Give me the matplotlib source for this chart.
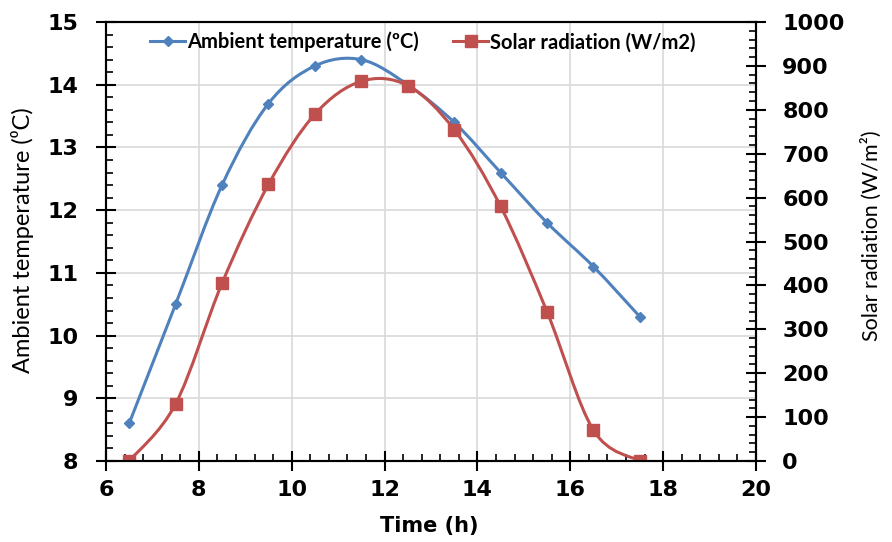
import numpy as np
import matplotlib
matplotlib.use("Agg")
import matplotlib.pyplot as plt
from matplotlib.path import Path
from matplotlib.patches import PathPatch
from matplotlib.lines import Line2D
from matplotlib.ticker import MultipleLocator

# data
hours = [6.5, 7.5, 8.5, 9.5, 10.5, 11.5, 12.5, 13.5, 14.5, 15.5, 16.5, 17.5]
temperature = [8.6, 10.5, 12.4, 13.7, 14.3, 14.4, 14.0, 13.4, 12.6, 11.8, 11.1, 10.3]
radiation = [0, 130, 405, 630, 790, 865, 855, 755, 580, 340, 70, 0]

blue = '#4F81BD'
red = '#C0504D'
txt_font = ['Lato', 'DejaVu Sans']


def smooth_path(xs, ys):
    # excel-like smoothed line: bezier segments through the points
    pts = np.column_stack([xs, ys]).astype(float)
    ext = np.vstack([pts[0], pts, pts[-1]])
    verts = [pts[0]]
    codes = [Path.MOVETO]
    for i in range(len(pts) - 1):
        p0, p1, p2, p3 = ext[i], ext[i + 1], ext[i + 2], ext[i + 3]
        c1 = p1 + (p2 - p0) / 6
        c2 = p2 - (p3 - p1) / 6
        verts += [c1, c2, p2]
        codes += [Path.CURVE4] * 3
    return Path(verts, codes)


fig = plt.figure(figsize=(8.92, 5.42), dpi=100)
ax = fig.add_axes([0.1188, 0.1494, 0.7287, 0.81])
ax2 = ax.twinx()

ax.add_patch(PathPatch(smooth_path(hours, temperature), fill=False, edgecolor=blue, lw=2.2))
ax.plot(hours, temperature, ls='none', marker='D', ms=5.5, color=blue)

ax2.add_patch(PathPatch(smooth_path(hours, radiation), fill=False, edgecolor=red, lw=2.2))
ax2.plot(hours, radiation, ls='none', marker='s', ms=8, color=red)

ax.set_xlim(6, 20)
ax.set_ylim(8, 15)
ax2.set_ylim(0, 1000)

ax.xaxis.set_major_locator(MultipleLocator(2))
ax.xaxis.set_minor_locator(MultipleLocator(0.4))
ax.yaxis.set_major_locator(MultipleLocator(1))
ax.yaxis.set_minor_locator(MultipleLocator(0.2))
ax2.yaxis.set_major_locator(MultipleLocator(100))
ax2.yaxis.set_minor_locator(MultipleLocator(20))

ax.grid(True, which='major', color='#d9d9d9', lw=1.2)
ax.set_axisbelow(True)

for a in (ax, ax2):
    for s in a.spines.values():
        s.set_linewidth(1.5)
        s.set_color('black')
    a.tick_params(which='major', direction='inout', length=14, width=1.5, labelsize=16)
    a.tick_params(which='minor', direction='in', length=5, width=1.2)
    for lab in a.get_xticklabels() + a.get_yticklabels():
        lab.set_fontweight('bold')
ax.tick_params(axis='y', pad=13)
ax.tick_params(axis='x', pad=7)
ax2.tick_params(axis='y', pad=12)

ax.set_ylabel('Ambient temperature (\u2070C)', fontsize=17, family=txt_font, va='center')
ax.yaxis.set_label_coords(-0.1277, 0.503)
ax2.set_ylabel('Solar radiation (W/m\u00b2)', fontsize=15.5, family=txt_font,
               rotation=90, va='center')
ax2.yaxis.set_label_coords(1.178, 0.5125)
ax.set_xlabel('Time (h)', fontsize=15, fontweight='bold', family='DejaVu Sans', va='center')
ax.xaxis.set_label_coords(0.498, -0.148)

handles = [Line2D([], [], color=blue, lw=2.2, marker='D', ms=5.5),
           Line2D([], [], color=red, lw=2.2, marker='s', ms=8)]
labels = ['Ambient temperature (\u00baC)', 'Solar radiation (W/m2)']
ax2.legend(handles, labels, loc='center left', bbox_to_anchor=(0.068, 0.954), ncol=2,
           frameon=False, borderaxespad=0, borderpad=0, handlelength=1.75,
           handletextpad=0.08, columnspacing=1.7,
           prop={'family': txt_font, 'weight': 'bold', 'size': 14.5})

fig.savefig('out.png', dpi=100)
